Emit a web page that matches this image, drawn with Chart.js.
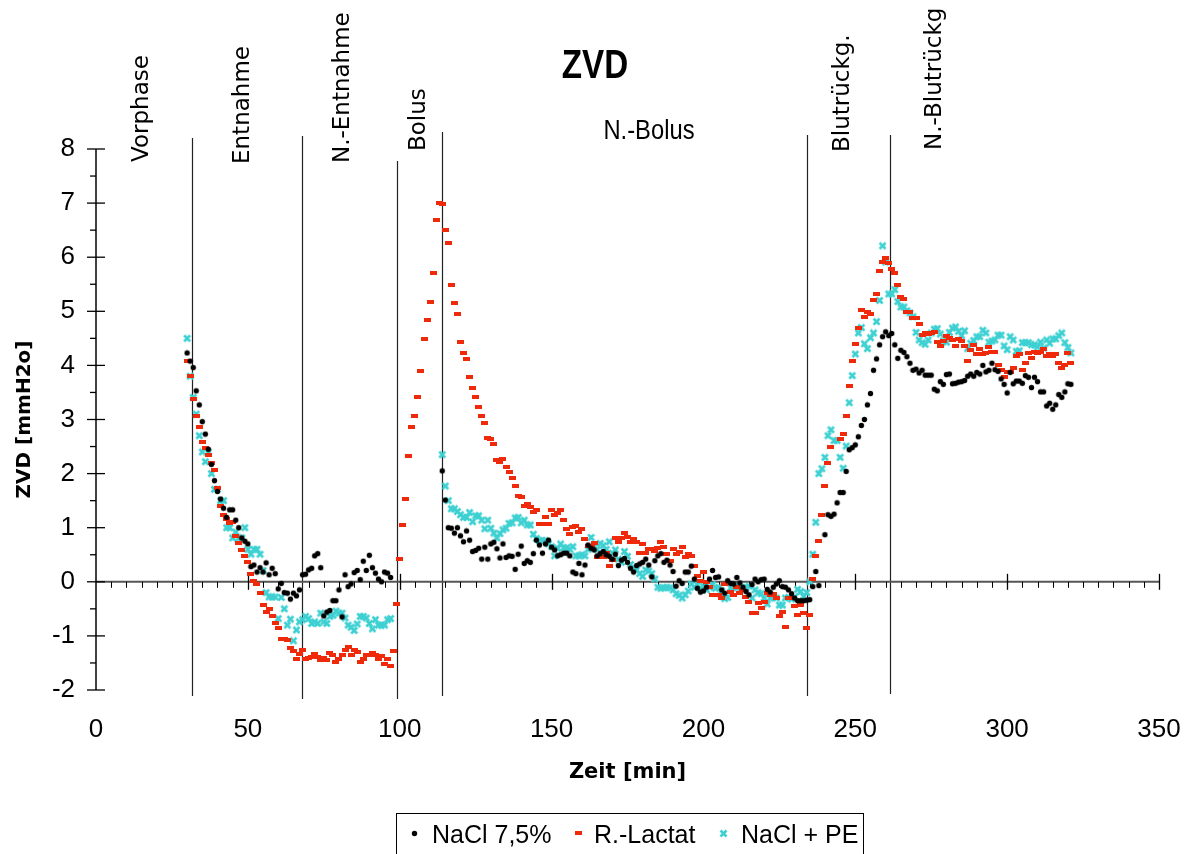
<!DOCTYPE html>
<html><head><meta charset="utf-8">
<script src="https://cdn.jsdelivr.net/npm/chart.js@4.4.1/dist/chart.umd.min.js"></script>
<style>html,body{margin:0;padding:0;background:#fff;}#wrap{position:relative;width:1195px;height:854px;}</style>
</head><body><div id="wrap"><canvas id="c" width="1195" height="854"></canvas></div>
<script>
// ---------- data ----------
const minutes = [30,31,32,33,34,35,36,37,38,39,40,41,42,43,44,45,46,47,48,49,50,51,52,53,54,55,56,57,58,59,60,61,62,63,64,65,66,67,68,69,70,71,72,73,74,75,76,77,78,79,80,81,82,83,84,85,86,87,88,89,90,91,92,93,94,95,96,97,98,99,100,101,102,103,104,105,106,107,108,109,110,111,112,113,114,115,116,117,118,119,120,121,122,123,124,125,126,127,128,129,130,131,132,133,134,135,136,137,138,139,140,141,142,143,144,145,146,147,148,149,150,151,152,153,154,155,156,157,158,159,160,161,162,163,164,165,166,167,168,169,170,171,172,173,174,175,176,177,178,179,180,181,182,183,184,185,186,187,188,189,190,191,192,193,194,195,196,197,198,199,200,201,202,203,204,205,206,207,208,209,210,211,212,213,214,215,216,217,218,219,220,221,222,223,224,225,226,227,228,229,230,231,232,233,234,235,236,237,238,239,240,241,242,243,244,245,246,247,248,249,250,251,252,253,254,255,256,257,258,259,260,261,262,263,264,265,266,267,268,269,270,271,272,273,274,275,276,277,278,279,280,281,282,283,284,285,286,287,288,289,290,291,292,293,294,295,296,297,298,299,300,301,302,303,304,305,306,307,308,309,310,311,312,313,314,315,316,317,318,319,320,321];

const nacl75 = [
4.23,4.08,3.96,3.53,3.27,2.96,2.73,2.45,2.17,1.87,
1.67,1.53,1.36,1.19,1.33,1.33,1.14,1.0,0.81,0.75,
0.70,0.28,0.31,0.18,0.26,0.18,0.35,0.13,0.25,0.15,
-0.13,-0.03,-0.20,-0.21,-0.32,-0.21,-0.26,-0.15,0.13,0.14,
0.22,0.25,0.48,0.52,0.26,-0.63,-0.56,-0.53,-0.35,-0.35,
-0.15,-0.65,0.13,-0.09,-0.04,0.17,0.21,0.04,0.38,0.21,
0.49,0.26,0.16,0.05,0.0,0.18,0.16,0.08,null,null,
null,null,null,null,null,null,null,null,null,null,
null,null,null,null,2.05,1.51,1.0,0.99,0.90,1.0,
0.85,0.74,0.94,0.77,0.56,0.58,0.62,0.42,0.64,0.42,
0.70,0.73,0.61,0.44,0.70,0.45,0.48,0.47,0.23,0.51,
0.66,0.34,0.39,0.36,0.52,0.77,0.68,0.53,0.70,0.77,
0.64,0.59,0.48,0.50,0.53,0.53,0.48,0.18,0.15,0.34,
0.13,0.31,0.68,0.62,0.59,0.48,0.52,0.56,0.50,0.47,
0.42,0.51,0.30,0.40,0.43,0.36,0.25,0.18,0.30,0.33,
0.36,0.42,0.31,0.09,0.39,0.48,0.52,0.36,0.40,0.31,
0.19,-0.08,0.02,-0.03,0.18,0.18,0.29,0.05,-0.12,-0.19,
-0.17,-0.10,0.05,0.21,0.08,0.09,-0.15,-0.21,0.02,-0.03,
-0.04,0.08,-0.02,-0.10,-0.18,-0.24,-0.05,0.05,0.0,0.04,
0.05,-0.14,-0.19,-0.10,-0.04,0.02,-0.09,-0.10,-0.15,-0.22,
-0.30,-0.35,-0.35,-0.35,-0.34,-0.33,-0.09,0.19,-0.07,null,
0.87,1.24,1.21,1.25,1.46,1.65,1.65,2.04,2.44,2.48,
2.53,2.68,2.89,3.0,3.27,3.48,3.91,4.12,4.38,4.53,
4.62,4.55,4.59,4.38,4.13,4.28,4.24,4.16,4.04,3.91,
3.93,3.86,3.91,3.82,3.82,3.82,3.56,3.53,3.70,3.65,
3.83,3.84,3.66,3.67,3.69,3.70,3.72,3.80,3.84,3.80,
3.87,3.84,4.0,3.88,3.91,4.04,3.92,3.89,3.75,3.65,
3.49,3.87,3.66,3.71,3.71,3.67,3.81,3.78,3.59,3.78,
3.70,3.51,3.51,3.25,3.30,3.19,3.27,3.46,3.41,3.51,
3.66,3.65];

const rLactat = [
4.09,3.80,3.38,3.06,2.87,2.59,2.48,2.35,2.20,2.07,
1.74,1.40,1.24,1.16,1.09,1.11,0.84,0.71,0.59,0.48,
0.36,0.15,0.02,-0.04,-0.21,-0.42,-0.56,-0.51,-0.64,-0.77,
-0.85,-1.06,-1.06,-1.07,-1.22,-1.27,-1.43,-1.33,-1.26,-1.43,
-1.41,-1.39,-1.33,-1.39,-1.44,-1.41,-1.44,-1.31,-1.36,-1.48,
-1.43,-1.35,-1.26,-1.20,-1.35,-1.26,-1.30,-1.48,-1.43,-1.36,
-1.36,-1.31,-1.36,-1.42,-1.38,-1.52,-1.43,-1.56,-1.28,-0.41,
0.42,1.05,1.53,2.32,2.86,3.07,3.41,3.89,4.49,4.83,
5.18,5.71,6.69,7.0,6.99,6.51,6.26,5.48,5.16,4.95,
4.44,4.23,4.12,3.78,3.59,3.41,3.23,3.07,2.93,2.66,
2.64,2.55,2.25,2.22,2.27,2.13,2.03,1.92,1.78,1.58,
1.56,1.41,1.44,1.39,1.29,1.33,1.07,1.07,1.19,1.07,
1.33,1.24,1.27,1.33,1.15,0.98,0.89,1.02,1.03,0.92,
0.98,0.80,0.66,0.66,0.71,0.45,0.45,0.45,0.53,0.30,
0.40,0.81,0.74,0.81,0.91,0.82,0.74,0.80,0.74,0.53,
0.70,0.53,0.60,0.61,0.57,0.63,0.74,0.64,0.52,0.39,
0.60,0.51,0.56,0.64,0.46,0.52,0.48,0.29,0.10,0.02,
0.19,0.0,-0.10,-0.24,-0.24,-0.24,-0.30,-0.04,-0.03,-0.19,
-0.24,-0.10,-0.21,-0.15,-0.29,-0.38,-0.58,-0.58,-0.40,-0.48,
-0.38,-0.21,-0.25,-0.22,-0.30,-0.63,-0.56,-0.84,-0.30,-0.30,
-0.45,-0.61,-0.43,-0.58,-0.85,-0.62,0.05,0.48,0.76,1.23,
1.78,2.19,2.49,null,null,2.64,2.74,3.07,3.61,4.09,
4.39,4.70,5.03,4.90,4.99,4.95,5.20,5.32,5.74,5.92,
5.99,5.90,5.79,5.71,5.49,5.26,5.23,4.98,4.98,4.88,
4.87,4.76,4.57,4.60,4.58,4.60,4.62,4.44,4.35,4.45,
4.54,4.50,4.47,4.36,4.49,4.46,4.36,4.09,4.28,4.38,
4.21,4.31,4.21,4.22,4.34,4.24,4.25,4.01,3.92,3.78,
3.88,3.88,3.96,4.17,4.21,3.91,4.04,4.23,4.13,4.24,
4.22,4.24,4.31,4.18,4.21,4.17,4.21,4.04,3.96,4.01,
4.22,4.04];

const naclPE = [
4.50,3.80,3.41,3.10,2.70,2.40,2.22,2.40,2.0,1.71,
1.71,1.50,1.50,1.0,1.0,0.81,0.92,0.81,0.81,1.0,
0.60,0.51,0.60,0.60,0.51,0.21,-0.2,-0.28,-0.28,-0.28,
-0.68,-0.29,-0.5,-0.80,-0.69,-1.09,-0.89,-0.74,-0.70,-0.64,
-0.68,-0.77,-0.74,-0.77,-0.58,-0.74,-0.77,-0.64,-0.62,-0.54,
-0.58,-0.58,-0.67,-0.80,-0.84,-0.90,-0.78,-0.64,-0.64,-0.67,
-0.77,-0.87,-0.70,-0.80,-0.80,-0.80,-0.70,-0.68,null,null,
null,null,null,null,null,null,null,null,null,null,
null,null,null,null,2.35,1.77,1.50,1.35,1.35,1.30,
1.24,1.19,1.19,1.28,1.11,1.22,1.22,1.14,0.98,1.14,
0.99,0.90,0.81,0.89,0.96,0.99,1.08,1.09,1.18,1.19,
1.09,1.14,1.05,1.05,0.88,0.80,0.76,0.76,0.76,0.70,
0.65,0.48,0.62,0.70,0.63,0.63,0.60,0.65,0.48,0.48,
0.50,0.48,0.60,0.82,0.65,0.60,0.71,0.67,0.60,0.74,
0.53,0.59,0.42,0.36,0.56,0.47,0.32,0.25,0.22,0.15,
0.10,0.22,0.20,0.15,0.05,-0.10,-0.12,-0.11,-0.10,-0.11,
-0.15,-0.22,-0.25,-0.30,-0.24,-0.17,-0.04,-0.10,-0.05,-0.12,
-0.08,-0.15,-0.10,-0.05,-0.12,-0.10,-0.17,-0.31,-0.29,-0.11,
-0.10,-0.11,-0.08,-0.12,-0.11,-0.08,-0.30,-0.15,-0.20,-0.22,
-0.30,-0.41,-0.30,-0.28,-0.30,-0.43,-0.43,-0.30,-0.29,-0.32,
-0.28,-0.14,-0.18,-0.27,-0.20,0.0,0.51,1.10,2.0,2.09,
2.30,2.70,2.81,2.61,2.61,2.30,2.10,2.51,3.31,3.81,
4.21,4.60,4.70,4.40,4.31,4.51,4.60,4.81,5.20,6.21,
5.91,5.32,5.32,5.40,5.18,5.08,5.08,5.01,4.97,4.90,
4.61,4.47,4.42,4.39,4.47,4.60,4.67,4.68,4.58,4.45,
4.43,4.61,4.69,4.71,4.63,4.55,4.64,4.31,4.41,4.46,
4.53,4.53,4.65,4.60,4.43,4.45,4.47,4.56,4.56,4.36,
4.29,4.53,4.47,4.26,4.27,4.42,4.42,4.42,4.38,4.38,
4.34,4.43,4.32,4.47,4.41,4.49,4.49,4.55,4.60,4.42,
4.33,4.23];

const seriesNames = ['NaCl 7,5%', 'R.-Lactat', 'NaCl + PE'];
const phaseNames = ['Vorphase', 'Entnahme', 'N.-Entnahme', 'Bolus', 'N.-Bolus', 'Blutrückg.', 'N.-Blutrückg'];
const phaseBoundaries = [31.7, 67.7, 99.0, 113.9, 234.1, 261.4];
const xTickValues = [0, 50, 100, 150, 200, 250, 300, 350];
const yTickValues = [-2, -1, 0, 1, 2, 3, 4, 5, 6, 7, 8];
const chartTitle = 'ZVD';
const xAxisTitle = 'Zeit [min]';
const yAxisTitle = 'ZVD [mmH2o]';

// ---------- styles ----------
const COLORS = { black: '#000000', red: '#ee2a0a', cyan: '#3dd0d2' };
const FONT_TICK = '"Liberation Sans", Arial, sans-serif';
const FONT_PHASE = '"DejaVu Sans", Verdana, sans-serif';
// rotated labels: x = baseline position, y = where the text starts (bottom)
const labelLayout = [
  { x: 148, y: 162, rot: true }, { x: 249, y: 164, rot: true }, { x: 349, y: 163, rot: true },
  { x: 425, y: 151, rot: true }, { x: 649, y: 132, rot: false }, { x: 849, y: 152, rot: true },
  { x: 941, y: 150, rot: true }
];
const lineExtent = [[138, 696], [136, 699], [161, 699], [132, 696], [135, 696], [135, 694]];

function makeRect() {
  const c = document.createElement('canvas'); c.width = 7; c.height = 4;
  const g = c.getContext('2d'); g.fillStyle = COLORS.red; g.fillRect(0, 0, 7, 4); return c;
}
function makeCross() {
  const c = document.createElement('canvas'); c.width = 9; c.height = 9;
  const g = c.getContext('2d'); g.strokeStyle = COLORS.cyan; g.lineWidth = 2.6; g.lineCap = 'butt';
  g.beginPath(); g.moveTo(1.5, 1.5); g.lineTo(7.5, 7.5); g.moveTo(7.5, 1.5); g.lineTo(1.5, 7.5); g.stroke(); return c;
}
function makeDot() {
  const c = document.createElement('canvas'); c.width = 7; c.height = 7;
  const g = c.getContext('2d'); g.fillStyle = COLORS.black; g.beginPath(); g.arc(3.5, 3.5, 2.7, 0, Math.PI * 2); g.fill(); return c;
}
const markerDot = makeDot(), markerRect = makeRect(), markerCross = makeCross();

function toPoints(ys) {
  const out = [];
  minutes.forEach((m, i) => { if (ys[i] !== null && ys[i] !== undefined) out.push({ x: m, y: ys[i] }); });
  return out;
}

function condensedText(ctx, text, x, y, font, sx) {
  ctx.save(); ctx.translate(x, y); ctx.scale(sx, 1);
  ctx.font = font; ctx.textAlign = 'center'; ctx.textBaseline = 'middle';
  ctx.fillText(text, 0, 0); ctx.restore();
}

const decorPlugin = {
  id: 'decor',
  beforeDatasetsDraw(chart) {
    const ctx = chart.ctx, xs = chart.scales.x, ys = chart.scales.y;
    const y0 = ys.getPixelForValue(0);
    ctx.save();
    ctx.strokeStyle = '#222'; ctx.lineWidth = 1.2;
    phaseBoundaries.forEach((b, i) => {
      const px = Math.round(xs.getPixelForValue(b)) + 0.5;
      ctx.beginPath(); ctx.moveTo(px, lineExtent[i][0]); ctx.lineTo(px, lineExtent[i][1]); ctx.stroke();
    });
    ctx.strokeStyle = '#555'; ctx.lineWidth = 2;
    ctx.beginPath(); ctx.moveTo(xs.left, y0); ctx.lineTo(xs.right, y0); ctx.stroke();
    ctx.strokeStyle = '#000'; ctx.lineWidth = 1;
    for (let v = 5; v < 350; v += 5) {
      const px = Math.round(xs.getPixelForValue(v)) + 0.5;
      ctx.beginPath(); ctx.moveTo(px, y0); ctx.lineTo(px, y0 + 6); ctx.stroke();
    }
    ctx.lineWidth = 1.3;
    xTickValues.forEach(v => {
      if (v === 0) return;
      const px = Math.round(xs.getPixelForValue(v)) + 0.5;
      ctx.beginPath(); ctx.moveTo(px, y0 - 8); ctx.lineTo(px, y0 + 8); ctx.stroke();
    });
    const ax = xs.getPixelForValue(0);
    ctx.lineWidth = 1.5; ctx.strokeStyle = '#000';
    ctx.beginPath(); ctx.moveTo(ax, ys.top); ctx.lineTo(ax, ys.bottom); ctx.stroke();
    ctx.lineWidth = 1.3;
    yTickValues.forEach(v => {
      const py = ys.getPixelForValue(v);
      ctx.beginPath(); ctx.moveTo(ax - 9, py); ctx.lineTo(ax + 9, py); ctx.stroke();
      if (v < 8) {
        const pm = ys.getPixelForValue(v + 0.5);
        ctx.beginPath(); ctx.moveTo(ax - 6, pm); ctx.lineTo(ax, pm); ctx.stroke();
      }
    });
    ctx.restore();
  },
  afterDraw(chart) {
    const ctx = chart.ctx;
    ctx.save();
    ctx.fillStyle = '#000';
    condensedText(ctx, chartTitle, 595, 67, 'bold 40px "Liberation Sans", Arial, sans-serif', 0.83);
    phaseNames.forEach((name, i) => {
      const L = labelLayout[i];
      if (L.rot) {
        ctx.save(); ctx.translate(L.x, L.y); ctx.rotate(-Math.PI / 2);
        ctx.font = '23px ' + FONT_PHASE; ctx.textAlign = 'left'; ctx.textBaseline = 'alphabetic';
        ctx.fillText(name, 0, 0); ctx.restore();
      } else {
        condensedText(ctx, name, L.x, L.y, '27px "Liberation Sans", Arial, sans-serif', 0.88);
      }
    });
    ctx.strokeStyle = '#000'; ctx.lineWidth = 1;
    ctx.strokeRect(396.5, 813.5, 467, 50);
    const markers = [markerDot, markerRect, markerCross];
    const mx = [414, 578, 723], tx = [432, 594, 741];
    ctx.font = '25px ' + FONT_TICK; ctx.textAlign = 'left'; ctx.textBaseline = 'middle';
    seriesNames.forEach((n, i) => {
      const m = markers[i];
      ctx.drawImage(m, Math.round(mx[i] - m.width / 2), Math.round(833 - m.height / 2));
      ctx.fillText(n, tx[i], 836);
    });
    ctx.restore();
  }
};

new Chart(document.getElementById('c'), {
  type: 'scatter',
  data: {
    datasets: [
      { label: seriesNames[0], data: toPoints(nacl75), pointStyle: markerDot, pointRadius: 3, backgroundColor: COLORS.black, borderColor: COLORS.black },
      { label: seriesNames[1], data: toPoints(rLactat), pointStyle: markerRect, pointRadius: 3, backgroundColor: COLORS.red, borderColor: COLORS.red },
      { label: seriesNames[2], data: toPoints(naclPE), pointStyle: markerCross, pointRadius: 3, backgroundColor: COLORS.cyan, borderColor: COLORS.cyan }
    ]
  },
  options: {
    responsive: false, animation: false, devicePixelRatio: 1,
    layout: { padding: { top: 149, left: 0, right: 36, bottom: 64 } },
    plugins: { legend: { display: false }, tooltip: { enabled: false }, title: { display: false } },
    scales: {
      x: {
        type: 'linear', min: 0, max: 350,
        afterBuildTicks: s => { s.ticks = xTickValues.map(v => ({ value: v })); },
        afterFit: s => { s.height = 100; },
        grid: { display: false, drawTicks: false }, border: { display: false },
        ticks: { color: '#000', padding: 0, font: { family: FONT_TICK, size: 26, lineHeight: 3.08 }, maxRotation: 0 },
        title: { display: true, text: xAxisTitle, color: '#000', font: { family: FONT_PHASE, size: 21, weight: 'bold' }, padding: { top: 0, bottom: 5 } }
      },
      y: {
        type: 'linear', min: -2, max: 8,
        afterBuildTicks: s => { s.ticks = yTickValues.map(v => ({ value: v })); },
        afterFit: s => { s.width = 96; },
        grid: { display: false, drawTicks: false }, border: { display: false },
        ticks: { color: '#000', padding: 21, font: { family: FONT_TICK, size: 26 } },
        title: { display: true, text: yAxisTitle, color: '#000', font: { family: FONT_PHASE, size: 20, weight: 'bold' }, padding: { top: 13, bottom: 0 } }
      }
    }
  },
  plugins: [decorPlugin]
});
</script></body></html>
